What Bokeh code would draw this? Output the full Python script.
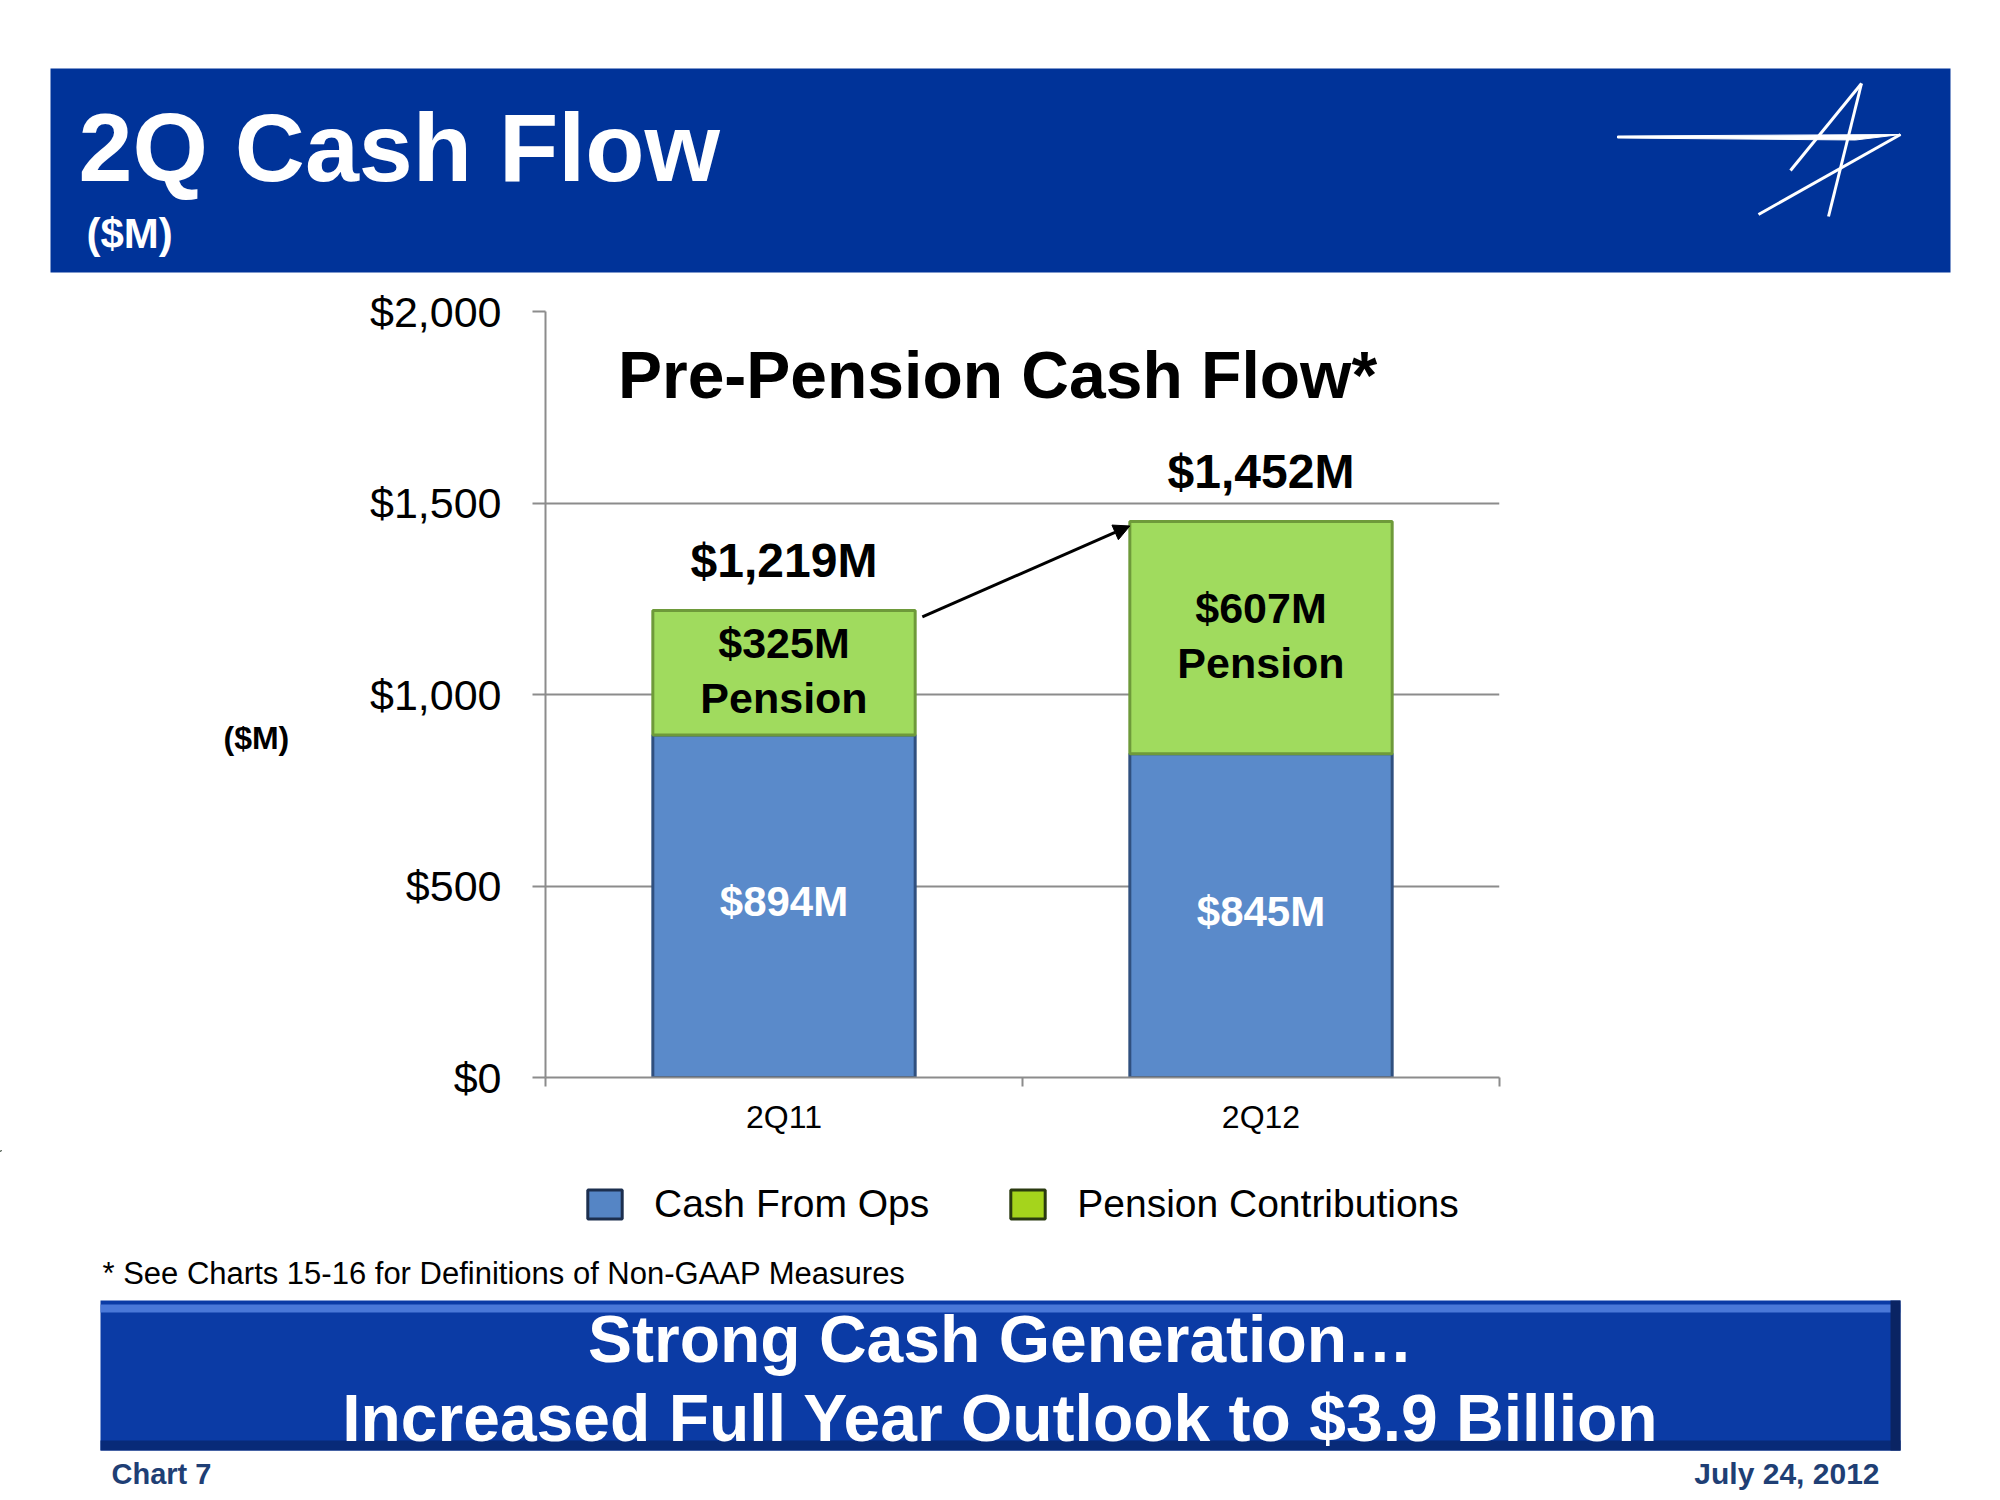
from bokeh.plotting import figure
from bokeh.layouts import column, row
from bokeh.models import (ColumnDataSource, Range1d, FixedTicker, NumeralTickFormatter,
                          Label, Arrow, NormalHead, Legend, LegendItem)
from bokeh.core.properties import value
from bokeh.embed import file_html
from bokeh.resources import INLINE

# ---------------- data ----------------
categories = ["2Q11", "2Q12"]
cash_from_ops = [894, 845]
pension = [325, 607]
totals = [1219, 1452]
ops_labels = ["$894M", "$845M"]
pension_labels = ["$325M", "$607M"]
total_labels = ["$1,219M", "$1,452M"]
series_names = ["Cash From Ops", "Pension Contributions"]
y_ticks = [0, 500, 1000, 1500, 2000]

FONT = "Liberation Sans"
W = 2000
HEAD_B = 278          # page y where the header figure ends
CHART_B = 1150        # page y where the chart figure ends
PAGE_B = 1500
SIDE_R = 300          # page x where the side strip ends
FL, FR, FT, FB = 545, 1499, 311, 1077   # chart frame on the page

BLUE = "#5A8ACA"
BLUE_EDGE = "#30507F"
GREEN = "#A0DB5E"
GREEN_EDGE = "#6E9A3A"
GRID = "#8C8C8C"
NAVY = "#003399"
FOOT = "#1F3F75"

bar_w = 0.55
x_pos = [i + 0.5 for i in range(len(categories))]


def blank_fig(left, right, top, bottom):
    f = figure(width=right - left, height=bottom - top, x_range=Range1d(left, right),
               y_range=Range1d(bottom, top), output_backend="svg", toolbar_location=None,
               x_axis_type=None, y_axis_type=None, min_border=0, frame_align=False)
    f.xgrid.visible = False
    f.ygrid.visible = False
    f.outline_line_color = None
    f.background_fill_color = "white"
    f.border_fill_color = "white"
    return f


def put(f, x, y, text, size, color="black", bold=False, align="left", **kw):
    f.add_layout(Label(x=x, y=y, text=text, text_font=FONT, text_font_size=size,
                       text_color=color, text_font_style="bold" if bold else "normal",
                       text_align=align, text_baseline="middle", **kw))


# ================= header =================
head = blank_fig(0, W, 0, HEAD_B)
head.quad(left=[50], right=[1950], top=[68], bottom=[272], fill_color=NAVY, line_color=None)
put(head, 78, 147, "2Q Cash Flow", "97px", "white", True)
put(head, 86, 233, "($M)", "42px", "white", True)
# logo
head.patch([1617, 1900, 1855, 1617], [135.5, 134, 139.5, 137.5], fill_color="white", line_color="white")
head.segment(x0=[1900, 1861, 1861], y0=[134, 83, 83], x1=[1758, 1828, 1790], y1=[214, 216, 170],
             line_color="white", line_width=3)

# ================= side strip with the value-axis unit =================
side = blank_fig(0, SIDE_R, HEAD_B, CHART_B)
put(side, 223, 737, "($M)", "32px", "black", True)

# ================= chart =================
src = ColumnDataSource(dict(
    x=x_pos,
    ops=cash_from_ops,
    pension=pension,
    ops_lab=ops_labels,
    pen_lab=pension_labels,
    pen_word=["Pension"] * len(categories),
    tot_lab=total_labels,
    ops_y=[v / 2 + 12 for v in cash_from_ops],
    pen_amt_y=[o + q / 2 + 6 + 72 for o, q in zip(cash_from_ops, pension)],
    pen_word_y=[o + q / 2 + 6 - 72 for o, q in zip(cash_from_ops, pension)],
    tot_y=[t + 130 for t in totals],
))

p = figure(width=W - SIDE_R, height=CHART_B - HEAD_B, x_range=Range1d(0, len(categories)),
           y_range=Range1d(0, 2000), output_backend="svg", toolbar_location=None,
           min_border_left=FL - SIDE_R, min_border_right=W - FR, min_border_top=FT - HEAD_B,
           min_border_bottom=CHART_B - FB, frame_align=False)
p.background_fill_color = "white"
p.border_fill_color = "white"
p.outline_line_color = None
p.extra_x_ranges = {"px": Range1d(FL, FR)}
p.extra_y_ranges = {"py": Range1d(FB, FT)}

p.xgrid.visible = False
p.ygrid.grid_line_color = GRID
p.ygrid.grid_line_width = 2
p.ygrid.ticker = FixedTicker(ticks=y_ticks)

yax = p.yaxis[0]
yax.ticker = FixedTicker(ticks=y_ticks)
yax.formatter = NumeralTickFormatter(format="$0,0")
yax.major_label_text_font = FONT
yax.major_label_text_font_size = "43px"
yax.major_label_text_color = "black"
yax.major_tick_out = 13
yax.major_tick_in = 0
yax.minor_tick_out = 0
yax.minor_tick_in = 0
yax.major_tick_line_color = GRID
yax.major_tick_line_width = 2
yax.axis_line_color = GRID
yax.axis_line_width = 2
yax.major_label_standoff = 31

xax = p.xaxis[0]
xax.ticker = FixedTicker(ticks=x_pos, minor_ticks=list(range(len(categories) + 1)))
xax.major_label_overrides = {x: c for x, c in zip(x_pos, categories)}
xax.major_label_text_font = FONT
xax.major_label_text_font_size = "32px"
xax.major_label_text_color = "black"
xax.major_tick_out = 0
xax.major_tick_in = 0
xax.minor_tick_out = 9
xax.minor_tick_in = 0
xax.minor_tick_line_color = GRID
xax.minor_tick_line_width = 2
xax.axis_line_color = GRID
xax.axis_line_width = 2
xax.major_label_standoff = 12

p.vbar_stack(["ops", "pension"], x="x", width=bar_w, source=src,
             fill_color=[BLUE, GREEN], line_color=[BLUE_EDGE, GREEN_EDGE], line_width=3)

p.text(x="x", y="ops_y", text="ops_lab", source=src, text_align="center",
       text_baseline="middle", text_color="white", text_font=value(FONT),
       text_font_size="42px", text_font_style="bold")
p.text(x="x", y="pen_amt_y", text="pen_lab", source=src, text_align="center",
       text_baseline="middle", text_color="black", text_font=value(FONT),
       text_font_size="43px", text_font_style="bold")
p.text(x="x", y="pen_word_y", text="pen_word", source=src, text_align="center",
       text_baseline="middle", text_color="black", text_font=value(FONT),
       text_font_size="43px", text_font_style="bold")
p.text(x="x", y="tot_y", text="tot_lab", source=src, text_align="center",
       text_baseline="middle", text_color="black", text_font=value(FONT),
       text_font_size="48px", text_font_style="bold")

p.add_layout(Arrow(end=NormalHead(size=16, fill_color="black", line_color="black"),
                   x_start=x_pos[0] + bar_w / 2 + 0.015, y_start=totals[0] - 16,
                   x_end=x_pos[1] - bar_w / 2, y_end=totals[1] - 12,
                   line_color="black", line_width=3))

put(p, 997, 374, "Pre-Pension Cash Flow*", "66px", "black", True, "center",
    x_range_name="px", y_range_name="py")

# ================= footer =================
foot = blank_fig(0, W, CHART_B, PAGE_B)
# legend swatch renderers: kept off-canvas, they only supply the legend glyphs
offcanvas = ColumnDataSource(dict(x=[-1000], top=[-1000]))
r_ops = foot.vbar(x="x", top="top", width=1, source=offcanvas, fill_color="#5585C5",
                  line_color="#1C2F4F", line_width=3)
r_pen = foot.vbar(x="x", top="top", width=1, source=offcanvas, fill_color="#A5D41C",
                  line_color="#2A3A10", line_width=3)
legend = Legend(items=[LegendItem(label=series_names[0], renderers=[r_ops]),
                       LegendItem(label=series_names[1], renderers=[r_pen])],
                orientation="horizontal", location=(583, PAGE_B - 1226),
                label_text_font=FONT, label_text_font_size="39px", label_text_color="black",
                glyph_width=43, glyph_height=36, label_standoff=28, spacing=77,
                padding=0, margin=0, border_line_color=None, background_fill_alpha=0)
foot.add_layout(legend)

put(foot, 102, 1273, "* See Charts 15-16 for Definitions of Non-GAAP Measures", "31px")

foot.quad(left=[100, 100, 100, 1890], right=[1900, 1900, 1900, 1900],
          top=[1300, 1304, 1440, 1300], bottom=[1450, 1312, 1450, 1450],
          fill_color=["#0B3BA5", "#4A78D8", "#082A78", "#0A2463"], line_color=None)
put(foot, 1000, 1338, "Strong Cash Generation\u2026", "66px", "white", True, "center")
put(foot, 1000, 1417, "Increased Full Year Outlook to $3.9 Billion", "66px", "white", True, "center")
put(foot, 111, 1473, "Chart 7", "29px", FOOT, True)
put(foot, 1879, 1473, "July 24, 2012", "30px", FOOT, True, "right")

layout = column(head, row(side, p, spacing=0), foot, spacing=0)
open("out.html", "w").write(file_html(layout, INLINE))
